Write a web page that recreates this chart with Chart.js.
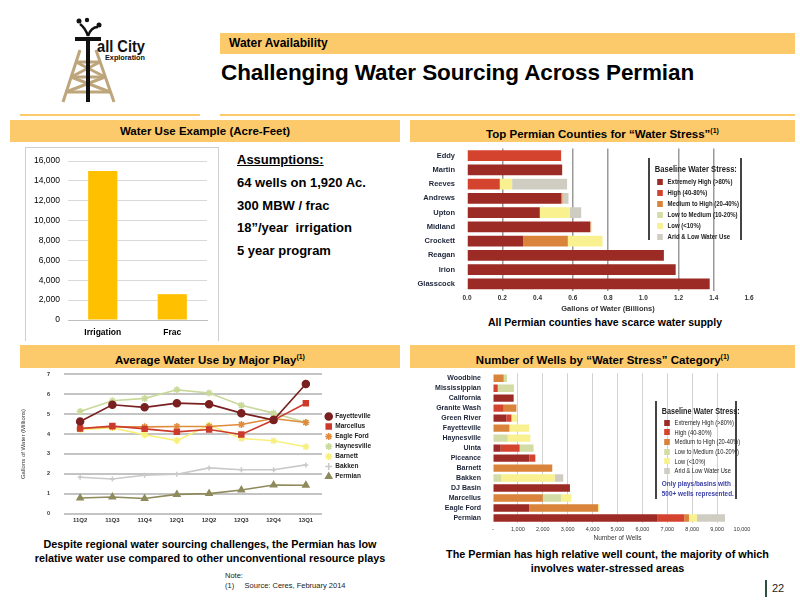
<!DOCTYPE html>
<html>
<head>
<meta charset="utf-8">
<script src="https://cdn.jsdelivr.net/npm/chart.js@4"></script>
<style>
  body { margin: 0; background: #fff; font-family: 'Liberation Sans', Arial, sans-serif; }
  #page { position: relative; width: 800px; height: 600px; overflow: hidden; }
  .abs { position: absolute; }
  .bar { position: absolute; background: #fcca6b; }
  .hdr { position: absolute; background: #fcca6b; font-weight: bold; font-size: 11.5px; text-align: center; color: #000; }
  .hdr sup { font-size: 7px; }
  .cap { position: absolute; font-weight: bold; text-align: center; color: #000; }
  .legend { position: absolute; border-left: 2px solid #444; border-right: 2px solid #444; }
  .legend .in { transform: scaleX(0.8); transform-origin: 0 0; white-space: nowrap; width: 125%; }
  .legend .t { font-weight: bold; font-size: 9.5px; color: #222; margin: 0 0 2px 6px; }
  .legend .i { font-size: 7.5px; color: #222; margin-left: 9px; }
  .legend .i span { display: inline-block; width: 7px; height: 6px; margin-right: 6px; vertical-align: -0.5px; }
  #legend-counties .i { font-weight: bold; height: 11px; line-height: 11px; }
  #legend-wells .t { font-size: 9px; }
  #legend-wells .i { font-size: 7.2px; height: 9.7px; line-height: 9.7px; }
  canvas { position: absolute; }
</style>
</head>
<body>
<div id="page">
  <!-- logo -->
  <svg class="abs" style="left:0;top:0" width="160" height="110">
    <g stroke="#bda57c" stroke-width="3" fill="none">
      <line x1="80" y1="50" x2="63" y2="102"/>
      <line x1="96" y1="50" x2="114" y2="102"/>
      <line x1="76" y1="62" x2="100" y2="62"/>
      <line x1="71" y1="77" x2="105" y2="77"/>
      <line x1="66" y1="92" x2="110" y2="92"/>
      <line x1="76" y1="62" x2="105" y2="77"/>
      <line x1="100" y1="62" x2="71" y2="77"/>
      <line x1="71" y1="77" x2="110" y2="92"/>
      <line x1="105" y1="77" x2="66" y2="92"/>
    </g>
    <rect x="86" y="38" width="4" height="64" fill="#111"/>
    <rect x="75" y="37" width="26" height="4" fill="#111"/>
    <path d="M88 36 C86 30 84 27 80 24" stroke="#111" stroke-width="2.5" fill="none"/>
    <path d="M88 36 C90 30 93 27 98 27" stroke="#111" stroke-width="2.5" fill="none"/>
    <circle cx="79" cy="21" r="2.5" fill="#111"/>
    <circle cx="87" cy="20" r="2.2" fill="#111"/>
    <circle cx="99" cy="25" r="2.5" fill="#111"/>
    <text x="97" y="52" font-family="'Liberation Sans', Arial" font-weight="bold" font-size="16" fill="#111" textLength="48" lengthAdjust="spacingAndGlyphs">all City</text>
    <text x="105" y="59.5" font-family="'Liberation Sans', Arial" font-weight="bold" font-size="6.5" fill="#111" textLength="40" lengthAdjust="spacingAndGlyphs">Exploration</text>
  </svg>

  <div class="bar" style="left:220px;top:33px;width:575px;height:21px"></div>
  <div class="abs" style="left:229px;top:36px;font-size:12px;font-weight:bold">Water Availability</div>
  <div class="abs" style="left:221px;top:60px;font-size:22.5px;font-weight:bold;letter-spacing:-0.1px">Challenging Water Sourcing Across Permian</div>

  <div class="bar" style="left:20px;top:114px;width:180px;height:2px"></div>
  <div class="bar" style="left:220px;top:114px;width:575px;height:2px"></div>

  <div class="hdr" style="left:10px;top:120px;width:390px;height:22px;line-height:22px">Water Use Example (Acre-Feet)</div>
  <div class="hdr" style="left:410px;top:120px;width:385px;height:22px;line-height:22px">Top Permian Counties for &ldquo;Water Stress&rdquo;<sup>(1)</sup></div>
  <div class="hdr" style="left:20px;top:345px;width:380px;height:23px;line-height:23px">Average Water Use by Major Play<sup>(1)</sup></div>
  <div class="hdr" style="left:410px;top:345px;width:385px;height:23px;line-height:23px">Number of Wells by &ldquo;Water Stress&rdquo; Category<sup>(1)</sup></div>

  <!-- chart 1 -->
  <div class="abs" style="left:25px;top:147px;width:192px;height:193px;border:1px solid #cfcfcf;border-bottom:none"></div>
  <canvas id="chart-water-use" style="left:26px;top:148px" width="191" height="191"></canvas>

  <div class="abs" style="left:237px;top:149px;font-size:13px;font-weight:bold;line-height:22.8px">
    <div style="text-decoration:underline">Assumptions:</div>
    <div>64 wells on 1,920 Ac.</div>
    <div>300 MBW / frac</div>
    <div>18&rdquo;/year&nbsp; irrigation</div>
    <div>5 year program</div>
  </div>

  <!-- chart 2 -->
  <canvas id="chart-counties" style="left:415px;top:140px" width="380" height="173"></canvas>
  <div class="legend" id="legend-counties" style="left:648px;top:158px;width:90px;height:77px;padding-top:5px"></div>
  <div class="cap" style="left:410px;top:316px;width:390px;font-size:10.5px">All Permian counties have scarce water supply</div>

  <!-- chart 3 -->
  <canvas id="chart-plays" style="left:20px;top:357px" width="365" height="174"></canvas>
  <div class="cap" style="left:20px;top:538px;width:380px;font-size:10.8px;line-height:13.5px">Despite regional water sourcing challenges, the Permian has low<br>relative water use compared to other unconventional resource plays</div>
  <div class="abs" style="left:225px;top:571px;font-size:7.5px;line-height:10px;color:#222">Note:<br>(1)&nbsp;&nbsp;&nbsp;&nbsp; Source: Ceres, February 2014</div>

  <!-- chart 4 -->
  <canvas id="chart-wells" style="left:415px;top:365px" width="380" height="177"></canvas>
  <div class="legend" id="legend-wells" style="left:655px;top:401px;width:78px;height:93px;padding-top:5px"></div>
  <div class="cap" style="left:410px;top:548px;width:395px;font-size:10.8px;line-height:13.5px">The Permian has high relative well count, the majority of which<br>involves water-stressed areas</div>

  <div class="abs" style="left:765px;top:580px;width:2px;height:17px;background:#2f4f3f"></div>
  <div class="abs" style="left:772px;top:582px;font-size:11px;color:#222">22</div>
</div>

<script>
// ---- data ----
const waterUseLabels = ['Irrigation', 'Frac'];
const waterUseValues = [15000, 2600];
const waterUseTicks = [0, 2000, 4000, 6000, 8000, 10000, 12000, 14000, 16000];

const stressCategories = ['Extremely High (>80%)', 'High (40-80%)', 'Medium to High (20-40%)',
  'Low to Medium (10-20%)', 'Low (<10%)', 'Arid & Low Water Use'];

const counties = ['Eddy', 'Martin', 'Reeves', 'Andrews', 'Upton', 'Midland', 'Crockett', 'Reagan', 'Irion', 'Glasscock'];
const countyExtremelyHigh = [0, 0.54, 0, 0.534, 0.413, 0.70, 0.318, 1.117, 1.184, 1.377];
const countyHigh          = [0.534, 0, 0.186, 0, 0, 0, 0, 0, 0, 0];
const countyMedHigh       = [0, 0, 0, 0.008, 0, 0, 0.254, 0, 0, 0];
const countyLowMed        = [0, 0, 0, 0, 0, 0, 0, 0, 0, 0];
const countyLow           = [0, 0, 0.07, 0, 0.17, 0.01, 0.197, 0, 0, 0];
const countyArid          = [0, 0, 0.312, 0.034, 0.065, 0, 0, 0, 0, 0];

const quarters = ['11Q2', '11Q3', '11Q4', '12Q1', '12Q2', '12Q3', '12Q4', '13Q1'];
const playNames = ['Fayetteville', 'Marcellus', 'Eagle Ford', 'Haynesville', 'Barnett', 'Bakken', 'Permian'];
const fayetteville = [4.63, 5.47, 5.34, 5.55, 5.50, 5.05, 4.70, 6.51];
const marcellus    = [4.28, 4.40, 4.26, 4.11, 4.23, 3.98, 4.70, 5.55];
const eagleFord    = [4.28, 4.36, 4.36, 4.38, 4.38, 4.48, 4.78, 4.58];
const haynesville  = [5.13, 5.67, 5.79, 6.22, 6.06, 5.45, 5.05, 4.58];
const barnett      = [4.23, 4.31, 3.96, 3.67, 4.45, 3.78, 3.66, 3.36];
const bakken       = [1.83, 1.74, 1.93, 1.98, 2.30, 2.21, 2.21, 2.45];
const permian      = [0.79, 0.84, 0.76, 0.97, 1.01, 1.19, 1.44, 1.43];

const plays = ['Woodbine', 'Mississippian', 'California', 'Granite Wash', 'Green River', 'Fayetteville', 'Haynesville',
  'Uinta', 'Piceance', 'Barnett', 'Bakken', 'DJ Basin', 'Marcellus', 'Eagle Ford', 'Permian'];
const wellsExtremelyHigh = [0, 0, 830, 0, 540, 0, 0, 310, 1460, 0, 0, 3090, 0, 1450, 6590];
const wellsHigh          = [0, 190, 0, 430, 200, 0, 0, 760, 240, 0, 0, 0, 30, 0, 1090];
const wellsMedHigh       = [430, 0, 0, 510, 0, 660, 0, 0, 0, 2380, 0, 0, 1970, 2770, 190];
const wellsLowMed        = [130, 650, 0, 0, 0, 0, 590, 560, 0, 0, 330, 0, 740, 0, 0];
const wellsLow           = [0, 0, 0, 0, 220, 790, 910, 0, 0, 0, 2150, 0, 410, 60, 320];
const wellsArid          = [0, 0, 0, 0, 0, 0, 0, 0, 0, 0, 340, 0, 0, 0, 1130];

// ---- theme ----
Chart.defaults.font.family = "'Liberation Sans', Arial, sans-serif";
Chart.defaults.color = '#222';
Chart.defaults.animation = false;
Chart.defaults.responsive = false;

const STRESS_COLORS = ['#9c2a25', '#d4432e', '#d9843a', '#d2dca4', '#f9f18f', '#cfcdc2'];
const PLAY_COLORS = ['#7a2020', '#cc3a2c', '#e08a3c', '#c9d99a', '#f7f07c', '#c9c9c9', '#8e8a5c'];
const PLAY_POINTS = ['circle', 'rect', 'star', 'star', 'star', 'cross', 'triangle'];

function fixWidth(w) { return (scale) => { scale.width = w; }; }
function fixHeight(h) { return (scale) => { scale.height = h; }; }

// html legends for the stress charts
function buildStressLegend(id, extra) {
  const el = document.getElementById(id);
  let html = '<div class="in"><div class="t">Baseline Water Stress:</div>';
  stressCategories.forEach((lab, i) => {
    html += '<div class="i"><span style="background:' + STRESS_COLORS[i] + '"></span>' +
      lab.replace('<', '&lt;').replace('>', '&gt;') + '</div>';
  });
  html += (extra || '') + '</div>';
  el.innerHTML = html;
}
buildStressLegend('legend-counties');
buildStressLegend('legend-wells',
  '<div style="color:#3a3fa8;font-size:8px;font-weight:bold;line-height:9.5px;margin:3px 0 0 6px">Only plays/basins with<br>500+ wells represented.</div>');

// ===== Water use example =====
new Chart(document.getElementById('chart-water-use'), {
  type: 'bar',
  data: {
    labels: waterUseLabels,
    datasets: [{ data: waterUseValues, backgroundColor: '#ffc000', barPercentage: 0.42, categoryPercentage: 1 }],
  },
  options: {
    layout: { padding: { top: 6, right: 10 } },
    plugins: { legend: { display: false }, tooltip: { enabled: false } },
    scales: {
      x: {
        grid: { display: false },
        border: { color: '#bfbfbf' },
        ticks: { color: '#000', font: { size: 8.5, weight: 'bold' }, padding: 0 },
        afterFit: fixHeight(19),
      },
      y: {
        min: 0, max: 16000,
        afterBuildTicks: (s) => { s.ticks = waterUseTicks.map((v) => ({ value: v })); },
        grid: { color: '#d9d9d9', drawTicks: false },
        border: { display: false },
        ticks: { color: '#000', font: { size: 8.5 }, padding: 8, callback: (v) => v.toLocaleString('en-US') },
        afterFit: fixWidth(42),
      },
    },
  },
});

// ===== Top counties (stacked horizontal) =====
function stressSets(arrays) {
  return arrays.map((arr, i) => ({
    label: stressCategories[i],
    data: arr,
    backgroundColor: STRESS_COLORS[i],
    barPercentage: 0.74,
    categoryPercentage: 1,
  }));
}

new Chart(document.getElementById('chart-counties'), {
  type: 'bar',
  data: {
    labels: counties,
    datasets: stressSets([countyExtremelyHigh, countyHigh, countyMedHigh, countyLowMed, countyLow, countyArid]),
  },
  options: {
    indexAxis: 'y',
    layout: { padding: { top: 3, right: 46 } },
    plugins: { legend: { display: false }, tooltip: { enabled: false } },
    scales: {
      x: {
        stacked: true, min: 0, max: 1.6,
        ticks: { stepSize: 0.2, color: '#333', font: { size: 6.5, weight: 'bold' },
                 padding: 3, maxRotation: 0, callback: (v) => v.toFixed(1) },
        grid: {
          drawTicks: false, lineWidth: 1.5,
          color: (c) => {
            const v = c.tick ? Math.round(c.tick.value * 10) : -1;
            return [0, 4, 10, 16].includes(v) ? 'rgba(0,0,0,0)' : '#9a9a9a';
          },
        },
        border: { display: false },
        title: { display: true, text: 'Gallons of Water (Billions)', color: '#333',
                 font: { size: 7.5, weight: 'bold' }, padding: 0 },
        afterFit: fixHeight(22),
      },
      y: {
        stacked: true,
        grid: { display: false },
        border: { display: false },
        ticks: { color: '#1c2438', font: { size: 7.5, weight: 'bold' }, padding: 4, autoSkip: false },
        afterFit: fixWidth(52),
      },
    },
  },
});

// ===== Average water use by play (lines) =====
const playSeries = [fayetteville, marcellus, eagleFord, haynesville, barnett, bakken, permian];
new Chart(document.getElementById('chart-plays'), {
  type: 'line',
  data: {
    labels: quarters,
    datasets: playSeries.map((arr, i) => ({
      label: playNames[i],
      data: arr,
      borderColor: PLAY_COLORS[i],
      backgroundColor: PLAY_COLORS[i],
      borderWidth: 1.6,
      pointStyle: PLAY_POINTS[i],
      pointRadius: i === 5 ? 2.5 : 3.5,
      pointBorderWidth: 1.5,
      tension: 0,
    })),
  },
  options: {
    layout: { padding: { top: 5, right: 4 } },
    plugins: {
      tooltip: { enabled: false },
      legend: {
        position: 'right',
        labels: {
          usePointStyle: true, boxWidth: 7, boxHeight: 5, padding: 3.5,
          color: '#222', font: { size: 6.5, weight: 'bold' },
        },
      },
    },
    scales: {
      x: {
        offset: true,
        grid: { display: false, drawTicks: false },
        border: { display: false },
        ticks: { color: '#333', font: { size: 6, weight: 'bold' }, padding: 3, maxRotation: 0, autoSkip: false },
      },
      y: {
        min: 0, max: 7,
        ticks: { stepSize: 1, color: '#333', font: { size: 5.5, weight: 'bold' }, padding: 14 },
        grid: { color: '#c4c4c4', lineWidth: 2, drawTicks: false },
        border: { display: false },
        title: { display: true, text: 'Gallons of Water (Millions)', color: '#333',
                 font: { size: 6 }, padding: 0 },
        afterFit: fixWidth(44),
      },
    },
  },
});

// ===== Number of wells by stress category =====
new Chart(document.getElementById('chart-wells'), {
  type: 'bar',
  data: {
    labels: plays,
    datasets: stressSets([wellsExtremelyHigh, wellsHigh, wellsMedHigh, wellsLowMed, wellsLow, wellsArid]),
  },
  options: {
    indexAxis: 'y',
    layout: { padding: { top: 2, right: 53 } },
    plugins: { legend: { display: false }, tooltip: { enabled: false } },
    scales: {
      x: {
        stacked: true, min: 0, max: 10000,
        ticks: { stepSize: 1000, color: '#333', font: { size: 5.5 }, padding: 3, maxRotation: 0, autoSkip: false,
                 callback: (v) => (v === 0 ? '-' : v.toLocaleString('en-US')) },
        grid: {
          drawTicks: false,
          color: (c) => (c.tick && (c.tick.value === 0 || c.tick.value === 10000) ? 'rgba(0,0,0,0)' : '#d2d2d2'),
        },
        border: { display: false },
        title: { display: true, text: 'Number of Wells', color: '#333',
                 font: { size: 6.5 }, padding: 0 },
        afterFit: fixHeight(19),
      },
      y: {
        stacked: true,
        grid: { display: false },
        border: { display: false },
        ticks: { color: '#1c2438', font: { size: 7, weight: 'bold' }, padding: 4, autoSkip: false },
        afterFit: fixWidth(78),
      },
    },
  },
});
</script>
</body>
</html>
